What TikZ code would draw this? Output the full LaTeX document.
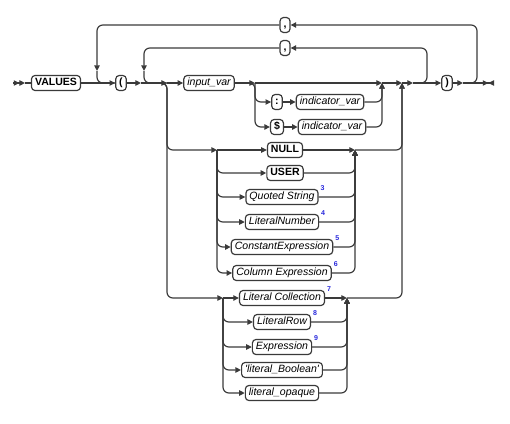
\documentclass[tikz,border=0pt]{standalone}
\usepackage{fontspec}
\setmainfont{Liberation Sans}
\usepackage{xcolor}
\definecolor{rail}{RGB}{58,58,58}
\definecolor{noteblue}{RGB}{40,40,220}
\usepackage{tikz}
\usetikzlibrary{arrows.meta,calc}
\tikzset{
  track/.style={draw=rail, line width=1pt, rounded corners=5pt},
  arr/.style={-{Triangle[length=4.8pt,width=4.6pt]}},
  startmark/.style={-{Triangle[length=4.8pt,width=4.6pt]Triangle[length=4.8pt,width=4.6pt]}},
  endmark/.style={-{Triangle[length=4.8pt,width=4.6pt]Triangle[length=4.8pt,width=4.6pt,reversed]}},
  keyword/.style={draw=rail, fill=white, line width=1pt, rounded corners=3pt,
    font=\fontsize{9}{10}\selectfont\bfseries, inner xsep=3pt, inner ysep=2pt,
    text height=6.8pt, text depth=2pt},
  rule/.style={keyword, font=\fontsize{9}{10}\selectfont\itshape},
  note/.style={font=\fontsize{6}{7}\selectfont\bfseries, text=noteblue,
    inner sep=0pt, anchor=west, xshift=1.5pt, yshift=1pt},
}

\begin{document}
\begin{tikzpicture}[x=0.03cm, y=-0.03cm]
\useasboundingbox (0,0) rectangle (510,423);

% main line
\coordinate (s0) at (13,83);
\coordinate (s1) at (25,83);
\node[keyword] (values) at (56,83) {VALUES};
\node[keyword] (lp) at (121,83) {(};
\coordinate (a1) at (141,83);
\coordinate (bj) at (167,83);
\node[rule] (inputvar) at (209,83) {input\_var};
\coordinate (vb) at (255,83);
\coordinate (r1) at (382,83);
\coordinate (r2) at (402,83);
\coordinate (a3) at (413,83);
\node[keyword] (rp) at (447,83) {)};
\coordinate (a4) at (463,83);
\coordinate (e0) at (494,83);

\draw[track,startmark] (s0) -- (s1);
\draw[track] (s1) -- (values);
\draw[track,arr] (values) -- (lp);
\draw[track,arr] (lp) -- (a1);
\draw[track,arr] (a1) -- (bj);
\draw[track,arr] (bj) -- (inputvar);
\draw[track,arr] (inputvar) -- (vb);
\draw[track,arr] (vb) -- (r1);
\draw[track,arr] (r1) -- (r2);
\draw[track,arr] (r2) -- (a3);
\draw[track,arr] (a3) -- (rp);
\draw[track,arr] (rp) -- (a4);
\draw[track,endmark] (a4) -- (e0);

% repeat loops
\node[keyword] (comma1) at (285,25) {,};
\node[keyword] (comma2) at (285,48) {,};
\coordinate (olt) at (477,25);
\coordinate (olb) at (97,71);
\coordinate (ilt) at (427,48);
\coordinate (ilb) at (144,71);
\draw[track,arr] (a4) -| (olt) -- (comma1);
\draw[track,arr] (comma1) -| (olb);
\draw[track] (olb) |- (lp);
\draw[track,arr] (a3) -| (ilt) -- (comma2);
\draw[track,arr] (comma2) -| (ilb);
\draw[track] (ilb) |- (bj);

% indicator variables
\node[keyword] (colon) at (277,102) {:};
\node[rule] (indvar1) at (330,102) {indicator\_var};
\node[keyword] (dollar) at (277,127) {\$};
\node[rule] (indvar2) at (332,127) {indicator\_var};
\draw[track,arr] (inputvar) -| (vb |- dollar) -- (dollar);
\draw[track,arr] (vb) |- (colon);
\draw[track,arr] (colon) -- (indvar1);
\draw[track,arr] (dollar) -- (indvar2);
\draw[track,arr] (indvar1) -| (r1);
\draw[track,arr] (indvar2) -| (r1);

% first group of values
\coordinate (gaL) at (217,150);
\coordinate (gaR) at (355,150);
\node[keyword] (null) at (285,150) {NULL};
\node[keyword] (user) at (285,173) {USER};
\foreach \y/\txt/\n [count=\i] in {197/Quoted String/3, 222/LiteralNumber/4,
    247/ConstantExpression/5, 273/Column Expression/6} {
  \node[rule] (ra\i) at (282,\y) {\txt};
  \node[note] at (ra\i.north east) {\n};
}
\draw[track,arr] (a1) -| (bj |- gaL) -- (gaL);
\draw[track,arr] (gaL) -- (null);
\draw[track,arr] (null) -- (gaR);
\foreach \k in {user,ra1,ra2,ra3,ra4} {
  \draw[track,arr] (gaL) |- (\k);
  \draw[track,arr] (\k) -| (gaR);
}
\draw[track,arr] (gaR) -| (r2);

% second group of values
\coordinate (gbL) at (223,298);
\coordinate (gbR) at (347,298);
\foreach \y/\txt/\n [count=\i] in {298/Literal Collection/7, 322/LiteralRow/8,
    347/Expression/9, 370/\textquotesingle literal\_Boolean\textquotesingle/,
    393/literal\_opaque/} {
  \node[rule] (rb\i) at (282,\y) {\txt};
  \node[note] at (rb\i.north east) {\n};
}
\draw[track,arr] (a1) -| (bj |- gbL) -- (gbL);
\draw[track,arr] (gbL) -- (rb1);
\draw[track,arr] (rb1) -- (gbR);
\foreach \i in {2,...,5} {
  \draw[track,arr] (gbL) |- (rb\i);
  \draw[track,arr] (rb\i) -| (gbR);
}
\draw[track,arr] (gbR) -| (r2);
\end{tikzpicture}
\end{document}
